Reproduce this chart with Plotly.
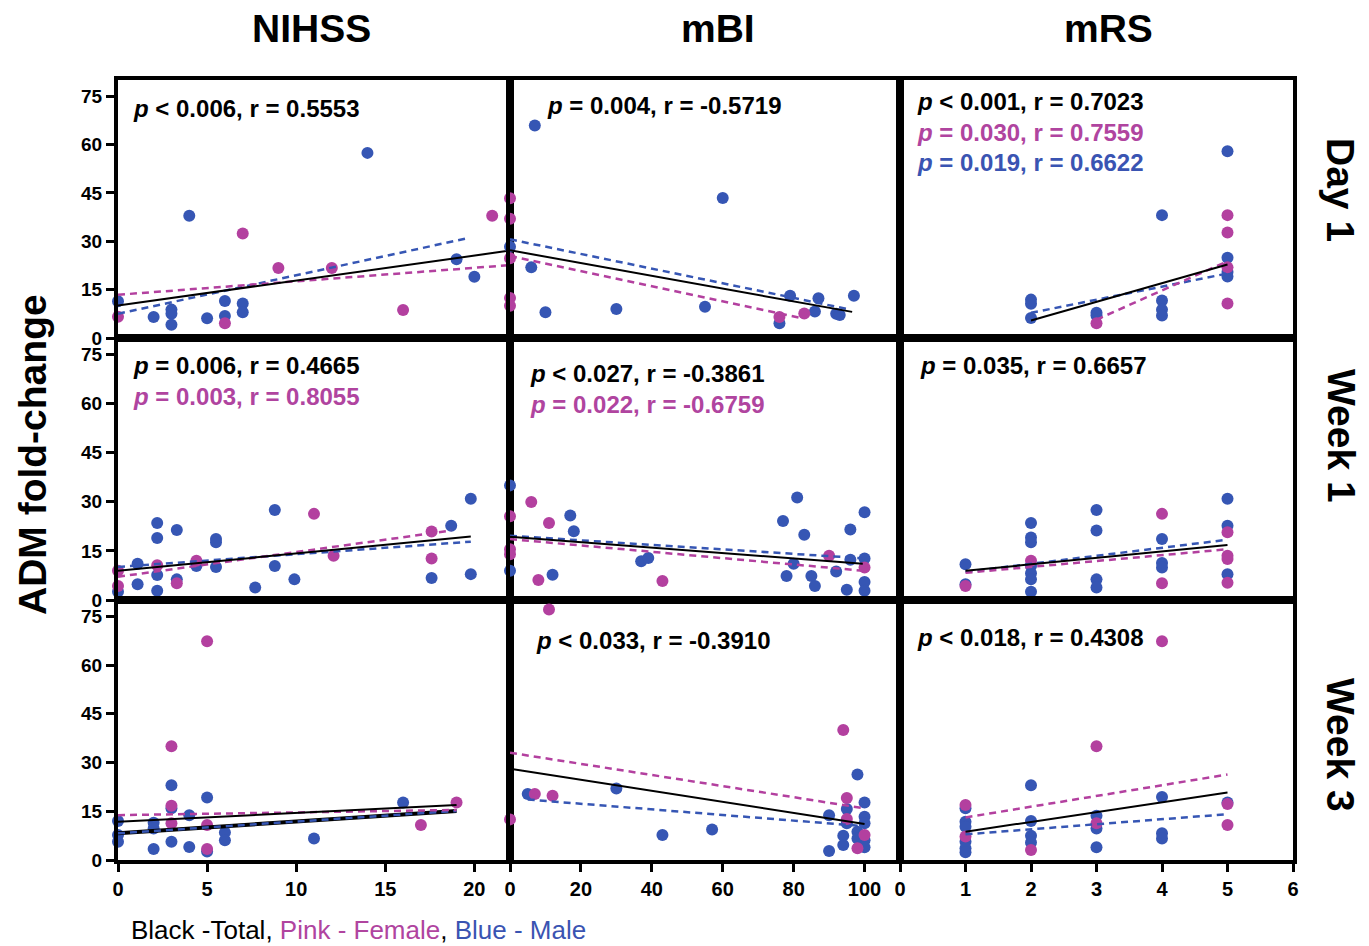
import plotly.graph_objects as go

# target picture size and the browser's default 8px page margin
W, H = 1369, 946
OFF = 8
FW, FH = W - OFF, H - OFF

# ---------------- data (ADM fold-change vs clinical score) ----------------
# Day 1 - NIHSS
d1_nihss_m_x = [0, 2, 3, 3, 3, 4, 5, 6, 6, 7, 7, 14, 19, 20]
d1_nihss_m_y = [11.4, 6.5, 8.8, 7.5, 4.1, 37.9, 6.1, 11.5, 6.8, 10.7, 8.0, 57.4, 24.4, 19.0]
d1_nihss_f_x = [0, 6, 7, 9, 12, 16, 21]
d1_nihss_f_y = [6.6, 4.6, 32.4, 21.7, 21.7, 8.7, 37.9]
# Day 1 - mBI
d1_mbi_m_x = [0, 7, 6, 10, 30, 60, 55, 76, 79, 86, 87, 92, 93, 97]
d1_mbi_m_y = [28.3, 65.9, 21.9, 8.0, 9.0, 43.4, 9.7, 4.6, 13.1, 8.2, 12.3, 7.5, 7.1, 13.1]
d1_mbi_f_x = [0, 0, 0, 0, 0, 76, 83]
d1_mbi_f_y = [43.3, 37.0, 24.7, 12.4, 10.0, 6.5, 7.6]
# Day 1 - mRS
d1_mrs_m_x = [2, 2, 2, 3, 3, 4, 4, 4, 4, 5, 5, 5, 5]
d1_mrs_m_y = [11.9, 10.6, 6.2, 7.8, 7.0, 38.1, 11.6, 8.8, 7.0, 57.9, 24.9, 20.5, 19.1]
d1_mrs_f_x = [3, 5, 5, 5, 5]
d1_mrs_f_y = [4.6, 38.1, 32.7, 21.9, 10.7]
# Week 1 - NIHSS
w1_nihss_m_x = [0, 1, 1, 2, 2, 2, 2, 3, 3, 4, 5, 5, 5, 7, 8, 8, 9, 16, 17, 18, 18]
w1_nihss_m_y = [2.5, 11.1, 4.8, 23.5, 18.9, 7.6, 2.8, 21.4, 6.3, 10.4, 18.6, 17.6, 10.1,
                3.8, 27.5, 10.4, 6.3, 6.7, 22.7, 30.9, 7.9]
w1_nihss_f_x = [0, 0, 2, 3, 4, 10, 11, 16, 16]
w1_nihss_f_y = [8.9, 4.3, 10.6, 5.1, 12.0, 26.3, 13.5, 20.9, 12.7]
# Week 1 - mBI
w1_mbi_m_x = [0, 0, 12, 17, 18, 37, 39, 77, 81, 78, 80, 83, 85, 86, 92, 95, 96, 96,
              100, 100, 100, 100]
w1_mbi_m_y = [35.0, 8.9, 7.7, 25.8, 21.0, 11.8, 12.8, 24.1, 31.3, 7.3, 11.1, 19.9, 7.3,
              4.3, 8.7, 3.1, 21.5, 12.3, 26.8, 12.7, 5.5, 2.8]
w1_mbi_f_x = [0, 0, 0, 6, 8, 11, 43, 90, 100]
w1_mbi_f_y = [25.6, 15.5, 14.0, 29.9, 6.1, 23.5, 5.8, 13.5, 9.9]
# Week 1 - mRS
w1_mrs_m_x = [1, 1, 2, 2, 2, 2, 2, 2, 2, 3, 3, 3, 3, 4, 4, 4, 5, 5, 5]
w1_mrs_m_y = [10.9, 4.8, 23.5, 19.1, 17.6, 10.4, 8.2, 6.3, 2.5, 27.5, 21.2, 6.3, 3.8,
              18.6, 11.3, 9.9, 30.9, 22.7, 7.9]
w1_mrs_f_x = [1, 2, 4, 4, 5, 5, 5, 5]
w1_mrs_f_y = [4.3, 12.0, 26.3, 5.1, 20.7, 13.5, 12.5, 5.3]
# Week 3 - NIHSS
w3_nihss_m_x = [0, 0, 0, 2, 2, 2, 3, 3, 3, 4, 4, 5, 5, 6, 6, 11, 16]
w3_nihss_m_y = [12.0, 7.7, 5.6, 11.5, 9.7, 3.4, 23.0, 15.9, 5.6, 13.8, 4.0, 19.2, 2.6,
                8.5, 6.1, 6.6, 17.7]
w3_nihss_f_x = [3, 3, 3, 5, 5, 5, 17, 19]
w3_nihss_f_y = [35.0, 16.7, 11.3, 67.3, 10.8, 3.4, 10.8, 17.7]
# Week 3 - mBI
w3_mbi_m_x = [5, 30, 43, 57, 90, 90, 94, 94, 95, 95, 98, 98, 98, 100, 100, 100, 100, 100]
w3_mbi_m_y = [20.3, 22.0, 7.7, 9.4, 13.8, 2.8, 7.5, 4.6, 15.7, 11.3, 26.3, 8.7, 6.6,
              17.7, 13.3, 11.3, 6.1, 3.9]
w3_mbi_f_x = [0, 7, 11, 12, 94, 95, 95, 98, 100]
w3_mbi_f_y = [12.5, 20.3, 77.1, 19.8, 40.0, 19.1, 12.6, 3.6, 7.7]
# Week 3 - mRS
w3_mrs_m_x = [1, 1, 1, 1, 1, 1, 2, 2, 2, 2, 3, 3, 3, 4, 4, 4, 5]
w3_mrs_m_y = [15.9, 11.8, 10.2, 5.6, 3.6, 2.4, 23.0, 12.0, 7.5, 5.4, 13.6, 9.7, 3.9,
              19.4, 8.2, 6.6, 17.7]
w3_mrs_f_x = [1, 1, 2, 3, 3, 4, 5, 5]
w3_mrs_f_y = [16.9, 7.2, 3.1, 35.0, 11.3, 67.3, 17.2, 10.8]

# Regression lines: (x start, x end), (y start, y end)
d1_nihss_fit_total, d1_nihss_fit_f, d1_nihss_fit_m = ([0, 22], [10.1, 27.1]), ([0, 22], [13.4, 22.6]), ([0, 19.5], [7.5, 30.8])
d1_mbi_fit_total, d1_mbi_fit_f, d1_mbi_fit_m = ([0, 96.5], [27.2, 8.1]), ([0, 82], [25.4, 6.2]), ([0, 96], [30.6, 8.8])
d1_mrs_fit_total, d1_mrs_fit_f, d1_mrs_fit_m = ([2, 5], [5.4, 22.8]), ([3, 5], [5.7, 23.8]), ([2, 5], [7.8, 20.0])
w1_nihss_fit_total, w1_nihss_fit_f, w1_nihss_fit_m = ([0, 18], [8.9, 19.4]), ([0, 17], [7.1, 21.2]), ([0, 18], [10.1, 17.8])
w1_mbi_fit_total, w1_mbi_fit_f, w1_mbi_fit_m = ([0, 99.5], [19.3, 11.1]), ([0, 100], [18.6, 8.9]), ([0, 100], [19.6, 12.7])
w1_mrs_fit_total, w1_mrs_fit_f, w1_mrs_fit_m = ([1, 5], [8.9, 16.8]), ([1, 5], [8.3, 15.5]), ([1, 5], [8.6, 18.4])
w3_nihss_fit_total, w3_nihss_fit_f, w3_nihss_fit_m = ([0, 19], [11.8, 16.9]), ([0, 19], [13.8, 15.4]), ([0, 19], [8.2, 15.1])
w3_mbi_fit_total, w3_mbi_fit_f, w3_mbi_fit_m = ([0, 100], [28.1, 11.1]), ([0, 100], [33.0, 15.9]), ([5, 100], [18.6, 10.4])
w3_mrs_fit_total, w3_mrs_fit_f, w3_mrs_fit_m = ([1, 5], [8.7, 20.8]), ([1, 5], [13.1, 26.3]), ([1, 5], [7.9, 14.1])

# statistics text per panel: (text, colour key)
d1_nihss_stats = [("<i>p</i> < 0.006, r = 0.5553", "k")]
d1_mbi_stats = [("<i>p</i> = 0.004, r = -0.5719", "k")]
d1_mrs_stats = [("<i>p</i> < 0.001, r = 0.7023", "k"), ("<i>p</i> = 0.030, r = 0.7559", "f"),
                ("<i>p</i> = 0.019, r = 0.6622", "m")]
w1_nihss_stats = [("<i>p</i> = 0.006, r = 0.4665", "k"), ("<i>p</i> = 0.003, r = 0.8055", "f")]
w1_mbi_stats = [("<i>p</i> < 0.027, r = -0.3861", "k"), ("<i>p</i> = 0.022, r = -0.6759", "f")]
w1_mrs_stats = [("<i>p</i> = 0.035, r = 0.6657", "k")]
w3_nihss_stats = []
w3_mbi_stats = [("<i>p</i> < 0.033, r = -0.3910", "k")]
w3_mrs_stats = [("<i>p</i> < 0.018, r = 0.4308", "k")]

col_titles = ["NIHSS", "mBI", "mRS"]
row_titles = ["Day 1", "Week 1", "Week 3"]
y_ticks = [0, 15, 30, 45, 60, 75]
x_ticks = [[0, 5, 10, 15, 20], [0, 20, 40, 60, 80, 100], [0, 1, 2, 3, 4, 5, 6]]
x_ranges = [[[0, 22], [0, 110], [0, 6]],
            [[0, 20], [0, 110], [0, 6]],
            [[0, 22], [0, 110], [0, 6]]]
y_range = [0, 80]

panels = [
    [(d1_nihss_m_x, d1_nihss_m_y, d1_nihss_f_x, d1_nihss_f_y, d1_nihss_fit_total, d1_nihss_fit_f, d1_nihss_fit_m, d1_nihss_stats),
     (d1_mbi_m_x, d1_mbi_m_y, d1_mbi_f_x, d1_mbi_f_y, d1_mbi_fit_total, d1_mbi_fit_f, d1_mbi_fit_m, d1_mbi_stats),
     (d1_mrs_m_x, d1_mrs_m_y, d1_mrs_f_x, d1_mrs_f_y, d1_mrs_fit_total, d1_mrs_fit_f, d1_mrs_fit_m, d1_mrs_stats)],
    [(w1_nihss_m_x, w1_nihss_m_y, w1_nihss_f_x, w1_nihss_f_y, w1_nihss_fit_total, w1_nihss_fit_f, w1_nihss_fit_m, w1_nihss_stats),
     (w1_mbi_m_x, w1_mbi_m_y, w1_mbi_f_x, w1_mbi_f_y, w1_mbi_fit_total, w1_mbi_fit_f, w1_mbi_fit_m, w1_mbi_stats),
     (w1_mrs_m_x, w1_mrs_m_y, w1_mrs_f_x, w1_mrs_f_y, w1_mrs_fit_total, w1_mrs_fit_f, w1_mrs_fit_m, w1_mrs_stats)],
    [(w3_nihss_m_x, w3_nihss_m_y, w3_nihss_f_x, w3_nihss_f_y, w3_nihss_fit_total, w3_nihss_fit_f, w3_nihss_fit_m, w3_nihss_stats),
     (w3_mbi_m_x, w3_mbi_m_y, w3_mbi_f_x, w3_mbi_f_y, w3_mbi_fit_total, w3_mbi_fit_f, w3_mbi_fit_m, w3_mbi_stats),
     (w3_mrs_m_x, w3_mrs_m_y, w3_mrs_f_x, w3_mrs_f_y, w3_mrs_fit_total, w3_mrs_fit_f, w3_mrs_fit_m, w3_mrs_stats)],
]

# ---------------- style / layout ----------------
BLUE = "#3656b4"
PINK = "#b3409f"
BLACK = "#000000"
TXT = {"k": BLACK, "f": "#b0449f", "m": "#3a54b2"}
FONT = "Liberation Sans, Arial, Helvetica, sans-serif"

# positions below are in screen pixels of the target picture
col_px = [(118, 510), (510, 900), (900, 1293)]
row_px = [(80, 338), (338, 600), (600, 860)]
stat_pos = [[(132, 108), (546, 106), (916, 102)],
            [(132, 366), (529, 374), (919, 366)],
            [(132, 640), (535, 640), (916, 637)]]
LINE_GAP = 30


def fx(px):
    return (px - OFF) / FW


def fy(py):
    return 1 - (py - OFF) / FH


fig = go.Figure()
layout = dict(template="none", width=FW, height=FH, margin=dict(l=0, r=0, t=0, b=0, pad=0),
              paper_bgcolor="white", plot_bgcolor="white", showlegend=False,
              font=dict(family=FONT, color="black"))
annotations = []

for r in range(3):
    for c in range(3):
        k = r * 3 + c + 1
        xa, ya = f"x{k}" if k > 1 else "x", f"y{k}" if k > 1 else "y"
        mx, my, fxs, fys, ft, ff, fm, stats = panels[r][c]
        fig.add_trace(go.Scatter(x=mx, y=my, mode="markers", xaxis=xa, yaxis=ya,
                                 marker=dict(color=BLUE, size=12, line=dict(width=0)),
                                 cliponaxis=False))
        fig.add_trace(go.Scatter(x=fxs, y=fys, mode="markers", xaxis=xa, yaxis=ya,
                                 marker=dict(color=PINK, size=12, line=dict(width=0)),
                                 cliponaxis=False))
        if r == 2 and c == 0:
            fig.add_trace(go.Scatter(x=fm[0], y=fm[1], mode="lines", xaxis=xa, yaxis=ya,
                                     line=dict(color=BLACK, width=4)))
        fig.add_trace(go.Scatter(x=fm[0], y=fm[1], mode="lines", xaxis=xa, yaxis=ya,
                                 line=dict(color=BLUE, width=2.5, dash="7px,5px")))
        fig.add_trace(go.Scatter(x=ff[0], y=ff[1], mode="lines", xaxis=xa, yaxis=ya,
                                 line=dict(color=PINK, width=2.5, dash="7px,5px")))
        fig.add_trace(go.Scatter(x=ft[0], y=ft[1], mode="lines", xaxis=xa, yaxis=ya,
                                 line=dict(color=BLACK, width=2)))

        x0, x1 = col_px[c]
        y0, y1 = row_px[r]
        xkey = "xaxis" if k == 1 else f"xaxis{k}"
        ykey = "yaxis" if k == 1 else f"yaxis{k}"
        show_x = r == 2
        show_y = c == 0
        layout[xkey] = dict(domain=[fx(x0), fx(x1)], anchor=ya, range=x_ranges[r][c],
                            automargin=False,
                            showgrid=False, zeroline=False, showline=True, mirror=True,
                            linecolor="black", linewidth=4,
                            tickmode="array", tickvals=x_ticks[c] if show_x else [],
                            ticks="outside" if show_x else "", ticklen=8, tickwidth=3,
                            tickcolor="black", showticklabels=show_x,
                            tickfont=dict(size=20, family=FONT, weight="bold", color="black"))
        layout[ykey] = dict(domain=[fy(y1), fy(y0)], anchor=xa, range=y_range,
                            automargin=False,
                            showgrid=False, zeroline=False, showline=True, mirror=True,
                            linecolor="black", linewidth=4,
                            tickmode="array", tickvals=y_ticks if show_y else [],
                            ticks="outside" if show_y else "", ticklen=8, tickwidth=3,
                            tickcolor="black", showticklabels=show_y,
                            tickfont=dict(size=19, family=FONT, weight="bold", color="black"))

        sx, sy = stat_pos[r][c]
        for i, (txt, ck) in enumerate(stats):
            annotations.append(dict(x=fx(sx), y=fy(sy + i * LINE_GAP), xref="paper", yref="paper",
                                    text=txt, showarrow=False, xanchor="left", yanchor="middle",
                                    borderpad=0,
                                    font=dict(size=24, family=FONT, weight="bold", color=TXT[ck])))

col_centers = [311, 718, 1108]
for c, t in enumerate(col_titles):
    annotations.append(dict(x=fx(col_centers[c]), y=fy(29), xref="paper", yref="paper",
                            text=t, showarrow=False, xanchor="center", yanchor="middle",
                            font=dict(size=39, family=FONT, weight="bold", color="black")))
row_centers = [190, 436, 745]
for r, t in enumerate(row_titles):
    annotations.append(dict(x=fx(1341), y=fy(row_centers[r]), xref="paper", yref="paper",
                            text=t, showarrow=False, xanchor="center", yanchor="middle",
                            textangle=90,
                            font=dict(size=39, family=FONT, weight="bold", color="black")))
annotations.append(dict(x=fx(33), y=fy(455), xref="paper", yref="paper",
                        text="ADM fold-change", showarrow=False, xanchor="center",
                        yanchor="middle", textangle=-90,
                        font=dict(size=39, family=FONT, weight="bold", color="black")))
annotations.append(dict(x=fx(130), y=fy(930), xref="paper", yref="paper",
                        text=("Black -Total, <span style='color:#b0449f'>Pink - Female</span>, "
                              "<span style='color:#3a54b2'>Blue - Male</span>"),
                        showarrow=False, xanchor="left", yanchor="middle", borderpad=0,
                        font=dict(size=26, family=FONT, color="black")))
layout["annotations"] = annotations
fig.update_layout(**layout)
fig.write_html("out.html")
